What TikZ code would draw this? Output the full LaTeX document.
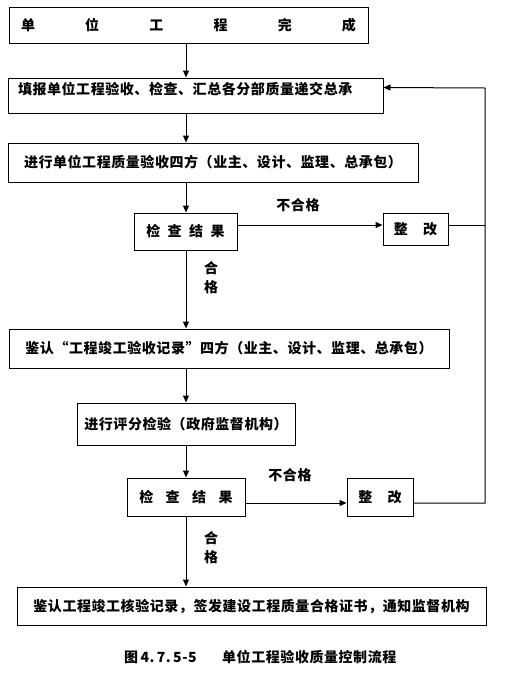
\documentclass[tikz,border=0pt]{standalone}
\usepackage{fontspec}
\setmainfont{Noto Sans CJK SC}[LetterSpace=4]
\usepackage{tikz}
\usetikzlibrary{arrows.meta,positioning}
\tikzset{
  box/.style={draw,line width=1pt,inner sep=0pt,align=center,
              font=\fontsize{14}{19}\selectfont\bfseries},
  lbl/.style={inner sep=0pt,align=center,font=\fontsize{14}{19}\selectfont\bfseries},
  arr/.style={-{Triangle[length=7pt,width=6pt]},line width=1pt},
  lin/.style={line width=1pt},
}

\begin{document}
\begin{tikzpicture}[x=1pt,y=-1pt]
  \useasboundingbox (0,0) rectangle (506,678);

  %% ── Main column ──────────────────────────────────────────────────────────
  \node[box,minimum width=359pt,minimum height=36pt] (b1) at (188.5,25)
    {\hbox to 335pt{单\hfill 位\hfill 工\hfill 程\hfill 完\hfill 成}};
  \node[box,minimum width=375pt,minimum height=35pt,inner xsep=10pt,
        text width=355pt,align=left,text depth=14pt] (b2) at (195.5,95.5)
    {填报单位工程验收、检查、汇总各分部质量递交总承};
  \node[box,minimum width=410pt,minimum height=39pt] (b3) at (213,162.5)
    {进行单位工程质量验收四方（业主、设计、监理、总承包）};
  \node[box,minimum width=103pt,minimum height=37pt] (c1) at (185.5,231.5)
    {检\hspace{7.5pt}查\hspace{7.5pt}结\hspace{7.5pt}果};
  \node[box,minimum width=440pt,minimum height=39pt] (b4) at (229,348.5)
    {鉴认“工程竣工验收记录”四方（业主、设计、监理、总承包）};
  \node[box,minimum width=218pt,minimum height=42pt] (b5) at (186,424)
    {进行评分检验（政府监督机构）};
  \node[box,minimum width=118pt,minimum height=38pt] (c2) at (186,497)
    {检\hspace{12.5pt}查\hspace{12.5pt}结\hspace{12.5pt}果};
  \node[box,minimum width=469pt,minimum height=38pt] (b6) at (251.5,606)
    {鉴认工程竣工核验记录，签发建设工程质量合格证书，通知监督机构};

  %% ── Rework boxes ─────────────────────────────────────────────────────────
  \node[box,minimum width=65pt,minimum height=32pt] (z1) at (415.5,229)
    {整\hspace{15.4pt}改};
  \node[box,minimum width=66pt,minimum height=38pt] (z2) at (380,497)
    {整\hspace{15.4pt}改};

  %% ── Labels ───────────────────────────────────────────────────────────────
  \node[lbl] (n1) at (298,205) {不合格};
  \node[lbl] (n2) at (290,475) {不合格};
  \node[lbl] (h1) at (211,278) {合\\格};
  \node[lbl] (h2) at (211,548) {合\\格};
  \node[lbl,anchor=west] (capn) at (124,657) {图\,4.\,7.\,5-5};
  \node[lbl,anchor=west] (capt) at (222,657) {单位工程验收质量控制流程};

  \coordinate (col) at (186,0);
  \coordinate (rt)  at (485,88);

  %% ── Connectors ───────────────────────────────────────────────────────────
  \draw[arr] (b1.south -| col) -- (b2.north -| col);
  \draw[arr] (b2.south -| col) -- (b3.north -| col);
  \draw[arr] (b3.south -| col) -- (c1.north -| col);
  \draw[arr] (c1.south -| col) -- (b4.north -| col);
  \draw[arr] (b4.south -| col) -- (b5.north -| col);
  \draw[arr] (b5.south -| col) -- (c2.north -| col);
  \draw[arr] (c2.south -| col) -- (b6.north -| col);

  \draw[arr] ([yshift=4pt]z1.west -| c1.east) -- ([yshift=4pt]z1.west);
  \draw[lin] ([yshift=4pt]z1.east) -- ([yshift=4pt]z1.east -| rt);
  \draw[arr] ([yshift=-6pt]c2.east) -- ([yshift=-6pt]c2.east -| z2.west);
  \draw[arr] ([yshift=-6pt]z2.east) -| (rt) -- ([yshift=-10pt]b2.north east);
\end{tikzpicture}
\end{document}
